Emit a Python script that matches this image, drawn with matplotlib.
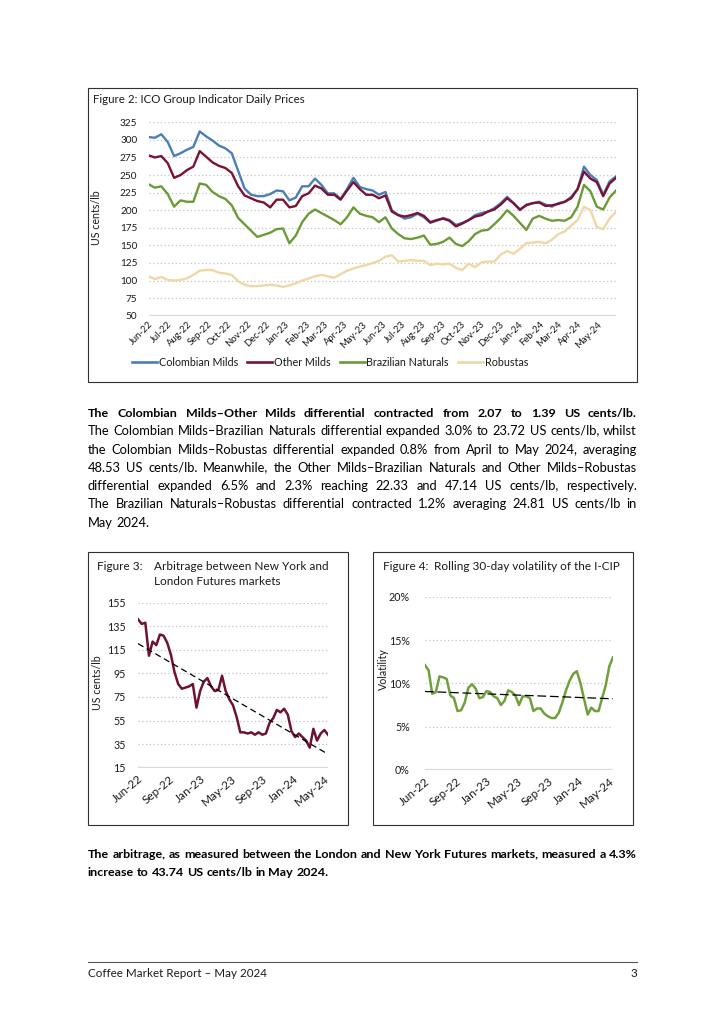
import numpy as np
import pandas as pd
import matplotlib
matplotlib.use("Agg")
import matplotlib.pyplot as plt
import matplotlib.dates as mdates
from matplotlib.patches import Rectangle
from matplotlib.lines import Line2D

# ---------------- DATA ----------------
# Figure 2: ICO group indicator prices (US cents/lb), one reading every 10 days from 1 Jun 2022
price_start = "2022-06-01"
colombian_milds = [304, 303, 308, 297, 277, 281, 286, 290, 312, 305,
                   299, 292, 288, 281, 256, 231, 222, 220, 220, 223,
                   228, 227, 214, 218, 234, 234, 245, 236, 224, 224,
                   216, 230, 246, 233, 230, 228, 222, 226, 200, 193,
                   188, 190, 195, 190, 182, 185, 189, 186, 179, 182,
                   186, 193, 196, 198, 203, 210, 219, 210, 200, 208,
                   210, 212, 208, 205, 210, 212, 219, 230, 262, 250,
                   243, 222, 241, 248]
other_milds = [278, 275, 277, 267, 246, 250, 257, 262, 284, 276,
               268, 263, 260, 253, 234, 221, 217, 213, 211, 204,
               215, 215, 204, 206, 220, 224, 235, 231, 222, 222,
               215, 228, 240, 230, 222, 222, 217, 221, 198, 193,
               191, 193, 196, 192, 183, 186, 188, 185, 177, 181,
               186, 191, 193, 198, 201, 208, 217, 210, 201, 207,
               210, 211, 206, 207, 209, 212, 217, 230, 255, 245,
               240, 220, 238, 246]
brazilian_naturals = [237, 232, 234, 223, 205, 214, 212, 212, 238, 236,
                      226, 220, 216, 207, 189, 180, 171, 162, 165, 168,
                      173, 174, 153, 164, 183, 195, 201, 196, 191, 186,
                      180, 190, 204, 195, 192, 190, 183, 190, 174, 166,
                      160, 159, 161, 164, 151, 152, 155, 161, 152, 149,
                      156, 166, 171, 172, 180, 189, 200, 192, 182, 172,
                      188, 192, 188, 185, 186, 185, 190, 205, 236, 227,
                      205, 201, 218, 228]
robustas = [106, 102, 105, 101, 100, 101, 103, 108, 114, 115,
            115, 111, 110, 108, 99, 94, 92, 92, 93, 94,
            93, 91, 93, 96, 100, 103, 106, 108, 106, 104,
            109, 114, 117, 120, 122, 125, 128, 134, 136, 127,
            128, 129, 128, 128, 122, 124, 123, 124, 118, 115,
            124, 119, 126, 127, 127, 137, 142, 138, 145, 153,
            154, 155, 153, 158, 166, 170, 178, 186, 205, 200,
            176, 173, 188, 198]
series_names = ["Colombian Milds", "Other Milds", "Brazilian Naturals", "Robustas"]
price_yticks = list(range(50, 326, 25))

# Figure 3: NY-London arbitrage (US cents/lb), one reading every 10 trading days
arbitrage = [141, 137, 138, 110, 122, 119, 128, 127, 121, 111,
             96, 86, 82, 83, 84, 86, 66, 80, 88, 91,
             84, 80, 81, 93, 80, 73, 68, 58, 45, 45,
             44, 45, 43, 45, 43, 44, 53, 57, 64, 62,
             65, 60, 46, 41, 44, 41, 38, 32, 48, 38,
             44, 47, 43]
arb_yticks = list(range(15, 156, 20))

# Figure 4: rolling 30-day volatility of the I-CIP (%), every 10 trading days
volatility = [12.1, 11.5, 8.8, 9.0, 10.8, 10.7, 10.5, 8.6, 8.3, 6.8,
              6.9, 7.8, 9.5, 9.9, 9.4, 8.3, 8.4, 9.1, 9.0, 8.5,
              8.3, 7.5, 8.0, 9.2, 9.0, 8.6, 7.5, 8.5, 8.5, 8.3,
              6.8, 7.1, 7.1, 6.5, 6.2, 6.0, 6.0, 6.6, 7.8, 9.2,
              10.3, 11.1, 11.4, 10.0, 8.2, 6.4, 7.2, 6.8, 6.8, 8.3,
              9.8, 12.0, 13.0]
vol_yticks = [0, 5, 10, 15, 20]
small_xlabels = ["Jun-22", "Sep-22", "Jan-23", "May-23", "Sep-23", "Jan-24", "May-24"]

# ---------------- TEXT ----------------
para1 = [
    "The Colombian Milds\u2013Other Milds differential contracted from 2.07 to 1.39 US cents/lb.",
    "The Colombian Milds\u2013Brazilian Naturals differential expanded 3.0% to 23.72 US cents/lb, whilst",
    "the Colombian Milds\u2013Robustas differential expanded 0.8% from April to May 2024, averaging",
    "48.53 US cents/lb. Meanwhile, the Other Milds\u2013Brazilian Naturals and Other Milds\u2013Robustas",
    "differential expanded 6.5% and 2.3% reaching 22.33 and 47.14 US cents/lb, respectively.",
    "The Brazilian Naturals\u2013Robustas differential contracted 1.2% averaging 24.81 US cents/lb in",
    "May 2024.",
]
para2 = [
    "The arbitrage, as measured between the London and New York Futures markets, measured a 4.3%",
    "increase to 43.74 US cents/lb in May 2024.",
]
footer_left = "Coffee Market Report \u2013 May 2024"
footer_right = "3"

# ---------------- STYLE ----------------
W, H = 724, 1024
plt.rcParams["font.family"] = "Lato"
TXT = "#1a1a1a"
C_COL, C_OTH, C_BRA, C_ROB = "#4A7EBB", "#7A1232", "#6B9B37", "#EFD8A5"
C_ARB, C_VOL = "#6E1230", "#6FA03B"
GRID = "#c4c4c4"
BASE = "#d9d9d9"

fig = plt.figure(figsize=(W / 100, H / 100), dpi=100)
fig.patch.set_facecolor("white")
renderer = fig.canvas.get_renderer()


def fx(x):
    return x / W


def fy(y):
    return 1 - y / H


def rect(x0, y0, x1, y1):
    return [x0 / W, 1 - y1 / H, (x1 - x0) / W, (y1 - y0) / H]


def box(x0, y0, x1, y1):
    fig.add_artist(Rectangle((fx(x0), fy(y1)), (x1 - x0) / W, (y1 - y0) / H,
                             transform=fig.transFigure, fill=False,
                             ec="#303030", lw=0.8))


def twidth(s, size, weight="normal"):
    t = fig.text(0, 0, s, fontsize=size, fontweight=weight)
    w = t.get_window_extent(renderer).width
    t.remove()
    return w


def fit_size(lines, width, weight="normal", start=10.0):
    size = start
    while size > 5:
        if max(twidth(l, size, weight) for l in lines) <= width:
            return size
        size -= 0.05
    return size


def style_axes(ax, base_y, labelsize):
    for s in ax.spines.values():
        s.set_visible(False)
    ax.yaxis.grid(True, ls=(0, (1, 2)), color=GRID, lw=0.9)
    ax.set_axisbelow(True)
    ax.axhline(base_y, color=BASE, lw=1.6, zorder=1.5)
    ax.tick_params(length=0, labelsize=labelsize, colors=TXT)


# sizes fitted to the widths seen in the page
title2_size = fit_size(["Figure 2: ICO Group Indicator Daily Prices"], 212)
title34_size = fit_size(["Rolling 30-day volatility of the I-CIP"], 187)
tick_size = fit_size(["325"], 17.5)
small_tick_size = fit_size(["155"], 18.5)
legend_size = fit_size(["Brazilian Naturals"], 84)
xlab_size = fit_size(["Jun-22"], 29)
small_xlab_size = fit_size(["Jun-22"], 36)

# ---------------- FIGURE 2 ----------------
box(88, 88, 637, 382)
fig.text(fx(93), fy(103), "Figure 2: ICO Group Indicator Daily Prices",
         fontsize=title2_size, color=TXT, va="baseline", ha="left")
ax = fig.add_axes(rect(148.5, 122.3, 616, 315.7))
dates = pd.date_range(price_start, periods=len(colombian_milds), freq="10D")
for vals, col, name in zip([colombian_milds, other_milds, brazilian_naturals, robustas],
                           [C_COL, C_OTH, C_BRA, C_ROB], series_names):
    ax.plot(pd.date_range(price_start, periods=len(vals), freq="10D"), vals,
            color=col, lw=1.7, label=name, solid_joinstyle="round")
ax.set_xlim(dates[0], dates[-1])
ax.set_ylim(price_yticks[0], price_yticks[-1])
ax.set_yticks(price_yticks)
style_axes(ax, price_yticks[0], tick_size)
ax.xaxis.set_major_locator(mdates.MonthLocator())
ax.xaxis.set_major_formatter(mdates.DateFormatter("%b-%y"))
for lab in ax.get_xticklabels():
    lab.set_rotation(45)
    lab.set_ha("right")
    lab.set_rotation_mode("anchor")
    lab.set_fontsize(xlab_size)
ax.tick_params(axis="x", pad=3)
ax.tick_params(axis="y", pad=8)
fig.text(fx(97), fy(218), "US cents/lb", rotation=90, fontsize=tick_size + 0.4, color=TXT,
         ha="center", va="center")
handles = [Line2D([], [], color=c, lw=1.9) for c in [C_COL, C_OTH, C_BRA, C_ROB]]
leg_px = legend_size * 100 / 72
fig.legend(handles, series_names, loc="center", bbox_to_anchor=(fx(330), fy(362)),
           ncol=4, frameon=False, fontsize=legend_size, handlelength=25 / leg_px,
           handletextpad=2 / leg_px, columnspacing=9 / leg_px, labelcolor=TXT)

# ---------------- FIGURE 3 ----------------
box(88, 552, 348, 825)
fig.text(fx(97), fy(569.5), "Figure 3:", fontsize=title34_size, color=TXT, va="baseline")
fig.text(fx(153.5), fy(569.5), "Arbitrage between New York and", fontsize=title34_size,
         color=TXT, va="baseline")
fig.text(fx(153.5), fy(585), "London Futures markets", fontsize=title34_size, color=TXT,
         va="baseline")
ax3 = fig.add_axes(rect(138, 602.7, 328, 767.7))
td3 = np.arange(len(arbitrage)) * 10
ax3.plot(td3, arbitrage, color=C_ARB, lw=1.8, zorder=3)
c3 = np.polyfit(td3, arbitrage, 1)
ax3.plot(td3[[0, -1]], np.polyval(c3, td3[[0, -1]]), color="black", lw=0.9,
         ls=(0, (5, 3)), zorder=4)
ax3.set_xlim(td3[0], td3[-1])
ax3.set_ylim(arb_yticks[0], arb_yticks[-1])
ax3.set_yticks(arb_yticks)
style_axes(ax3, arb_yticks[0], small_tick_size)
ax3.set_xticks(np.arange(len(small_xlabels)) * 85)
ax3.set_xticklabels(small_xlabels, rotation=40, ha="right", rotation_mode="anchor",
                    fontsize=small_xlab_size)
ax3.tick_params(axis="y", pad=9)
ax3.tick_params(axis="x", pad=4)
fig.text(fx(97.5), fy(683), "US cents/lb", rotation=90, fontsize=small_tick_size,
         color=TXT, ha="center", va="center")

# ---------------- FIGURE 4 ----------------
box(373, 552, 633, 825)
fig.text(fx(383), fy(569.5), "Figure 4:", fontsize=title34_size, color=TXT, va="baseline")
fig.text(fx(434.5), fy(569.5), "Rolling 30-day volatility of the I-CIP",
         fontsize=title34_size, color=TXT, va="baseline")
ax4 = fig.add_axes(rect(425, 596.7, 613, 770))
td4 = np.arange(len(volatility)) * 10
ax4.plot(td4, volatility, color=C_VOL, lw=1.8, zorder=3)
c4 = np.polyfit(td4, volatility, 1)
ax4.plot(td4[[0, -1]], np.polyval(c4, td4[[0, -1]]), color="black", lw=0.9,
         ls=(0, (7, 3)), zorder=4)
ax4.set_xlim(td4[0], td4[-1])
ax4.set_ylim(vol_yticks[0], vol_yticks[-1])
ax4.set_yticks(vol_yticks)
ax4.set_yticklabels([f"{v}%" for v in vol_yticks])
style_axes(ax4, vol_yticks[0], small_tick_size)
ax4.set_xticks(np.arange(len(small_xlabels)) * 85)
ax4.set_xticklabels(small_xlabels, rotation=40, ha="right", rotation_mode="anchor",
                    fontsize=small_xlab_size)
ax4.tick_params(axis="y", pad=11)
ax4.tick_params(axis="x", pad=4)
fig.text(fx(383.5), fy(669), "Volatility", rotation=90, fontsize=small_tick_size,
         color=TXT, ha="center", va="center")

# ---------------- BODY TEXT ----------------
X0, X1 = 88, 637
body_lines = []


def put_line(line, y, size, weight, justify=True):
    words = line.split(" ")
    arts = [fig.text(0, fy(y), w, fontsize=size, fontweight=weight, color="black",
                     va="baseline", ha="left") for w in words]
    ws = [a.get_window_extent(renderer).width for a in arts]
    if justify and len(words) > 1:
        gap = (X1 - X0 - sum(ws)) / (len(words) - 1)
    else:
        gap = twidth("a a", size, weight) - twidth("aa", size, weight)
    x = X0
    for a, w in zip(arts, ws):
        a.set_x(fx(x))
        x += w + gap
    body_lines.append((arts, y))


reg_size = fit_size(para1[1:6], X1 - X0 - 4, "normal")
bold_size = fit_size([para2[0]], X1 - X0 - 2, "bold")
p1_base = [417, 435.3, 453.6, 471.9, 490.2, 508.5, 526.8]
for i, (line, y) in enumerate(zip(para1, p1_base)):
    put_line(line, y, bold_size if i == 0 else reg_size, "bold" if i == 0 else "normal",
             justify=(i < len(para1) - 1))
p2_base = [857.5, 876]
for i, (line, y) in enumerate(zip(para2, p2_base)):
    put_line(line, y, bold_size, "bold", justify=(i < len(para2) - 1))

# ---------------- FOOTER ----------------
footer_size = fit_size([footer_left], 180)
fig.add_artist(Line2D([fx(88), fx(637)], [fy(962), fy(962)], transform=fig.transFigure,
                      color="#555555", lw=0.8))
fig.text(fx(88), fy(977), footer_left, fontsize=footer_size, color=TXT, va="baseline",
         ha="left")
fig.text(fx(637), fy(977), footer_right, fontsize=footer_size, color=TXT, va="baseline",
         ha="right")

# ---- keep the rendered words of each body line on one common baseline ----
fig.canvas.draw()
img = np.asarray(fig.canvas.buffer_rgba())[:, :, :3].astype(float).mean(axis=2)
Hpx, Wpx = img.shape
DESC = set("gjpqy,;/()")


def base_row(a, y_t):
    bb = a.get_window_extent(renderer)
    r0 = int(round(y_t)) - 9
    r1 = int(round(y_t)) + 4
    c0 = max(int(np.floor(bb.x0)), 0)
    c1 = min(int(np.ceil(bb.x1)), Wpx - 1)
    sub = img[r0:r1 + 1, c0:c1 + 1] < 140
    lows = [r0 + np.nonzero(col)[0].max() for col in sub.T if col.any()]
    if not lows:
        return None
    vals, counts = np.unique(lows, return_counts=True)
    if set(a.get_text()) & DESC:
        return vals[np.argmax(counts)]
    return vals[counts >= 0.3 * counts.max()].max()


for arts, y_t in body_lines:
    rows = [base_row(a, y_t) for a in arts]
    valid = [r for r in rows if r is not None]
    if not valid:
        continue
    vals, counts = np.unique(valid, return_counts=True)
    ref = vals[np.argmax(counts)]
    for a, r in zip(arts, rows):
        if r is not None and 1 <= abs(r - ref) <= 3:
            a.set_y(a.get_position()[1] + (r - ref) / Hpx)

fig.savefig("out.png", dpi=100, facecolor="white")
